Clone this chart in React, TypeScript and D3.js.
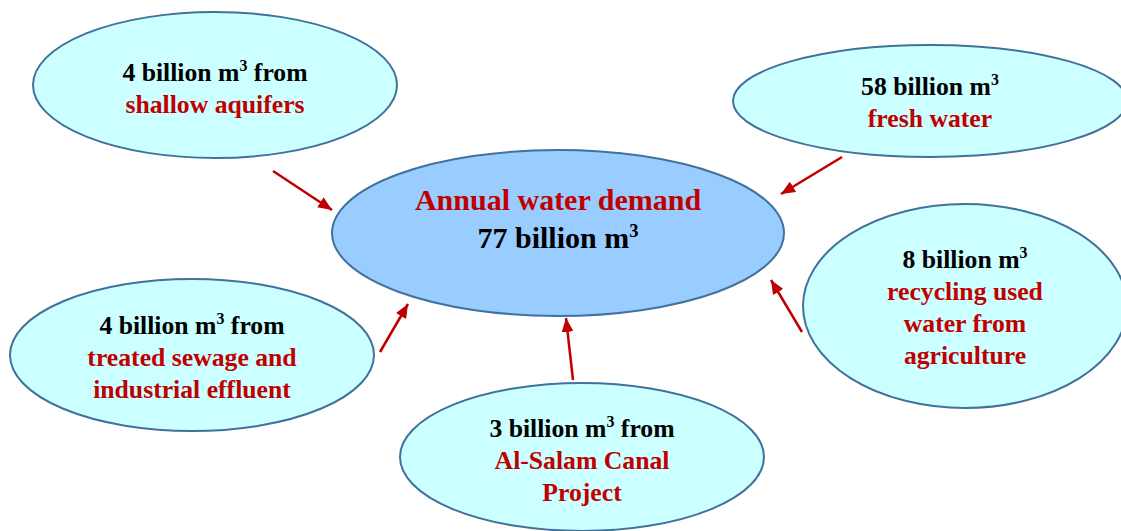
import React from "react";
import * as d3 from "d3";

// ---- data ----
const centerTitle = "Annual water demand";
const centerValue = 77; // billion m3
const sourceValues = [4, 58, 4, 3, 8]; // billion m3
const sourceSuffix = [" from", "", " from", " from", ""];
const sourceLabels: string[][] = [
  ["shallow aquifers"],
  ["fresh water"],
  ["treated sewage and", "industrial effluent"],
  ["Al-Salam Canal", "Project"],
  ["recycling used", "water from", "agriculture"],
];

// ---- layout (positions / sizes) ----
const W = 1121;
const H = 531;
const centerShape = { cx: 558, cy: 233, rx: 226, ry: 83 };
const sourceShapes = [
  { cx: 215, cy: 85, rx: 182, ry: 73, ty: 81 },
  { cx: 930, cy: 101, rx: 197, ry: 56, ty: 95 },
  { cx: 192, cy: 355, rx: 182, ry: 76, ty: 334 },
  { cx: 582, cy: 457, rx: 182, ry: 74, ty: 437 },
  { cx: 965, cy: 306, rx: 162, ry: 102, ty: 268 },
];
const arrows: [number, number, number, number][] = [
  [273, 171, 332, 210],
  [842, 157, 781, 194],
  [380, 352, 408, 304],
  [573, 380, 566, 318],
  [802, 332, 771, 280],
];

const RED = "#c00000";
const FONT_STYLE = { fontFamily: "Liberation Serif, Times New Roman, serif" };

function ValueLine({ value, suffix, x, y, size }: { value: number; suffix: string; x: number; y: number; size: number }) {
  return (
    <text x={x} y={y} textAnchor="middle" style={FONT_STYLE} fontWeight="bold" fontSize={size} fill="#000">
      <tspan>{`${value} billion m`}</tspan>
      <tspan fontSize={size * 0.62} dy={-size * 0.38}>3</tspan>
      <tspan dy={size * 0.38}>{suffix}</tspan>
    </text>
  );
}

export default function App() {
  const line = d3.line<[number, number]>();
  const fs = 25.7;
  const lh = 32;
  return (
    <svg width={W} height={H} style={{ position: "absolute", left: 0, top: 0 }}>
      <defs>
        <marker id="ah" markerUnits="userSpaceOnUse" viewBox="0 0 14 12" refX={14} refY={6} markerWidth={14} markerHeight={12} orient="auto">
          <path d="M0,0 L14,6 L0,12 Z" fill={RED} />
        </marker>
      </defs>
      <rect width={W} height={H} fill="#fff" />
      {sourceShapes.map((s, i) => (
        <ellipse key={i} cx={s.cx} cy={s.cy} rx={s.rx} ry={s.ry} fill="#ccffff" stroke="#41719c" strokeWidth={2} />
      ))}
      <ellipse {...centerShape} fill="#99ccff" stroke="#41719c" strokeWidth={2} />
      {arrows.map((a, i) => (
        <path key={i} d={line([[a[0], a[1]], [a[2], a[3]]]) || ""} stroke={RED} strokeWidth={2.5} fill="none" markerEnd="url(#ah)" />
      ))}
      <text x={centerShape.cx} y={210} textAnchor="middle" style={FONT_STYLE} fontWeight="bold" fontSize={30} fill={RED}>
        {centerTitle}
      </text>
      <ValueLine value={centerValue} suffix="" x={centerShape.cx} y={248} size={30} />
      {sourceShapes.map((s, i) => (
        <g key={i}>
          <ValueLine value={sourceValues[i]} suffix={sourceSuffix[i]} x={s.cx} y={s.ty} size={fs} />
          {sourceLabels[i].map((l, j) => (
            <text key={j} x={s.cx} y={s.ty + lh * (j + 1)} textAnchor="middle" style={FONT_STYLE} fontWeight="bold" fontSize={fs} fill={RED}>
              {l}
            </text>
          ))}
        </g>
      ))}
    </svg>
  );
}
